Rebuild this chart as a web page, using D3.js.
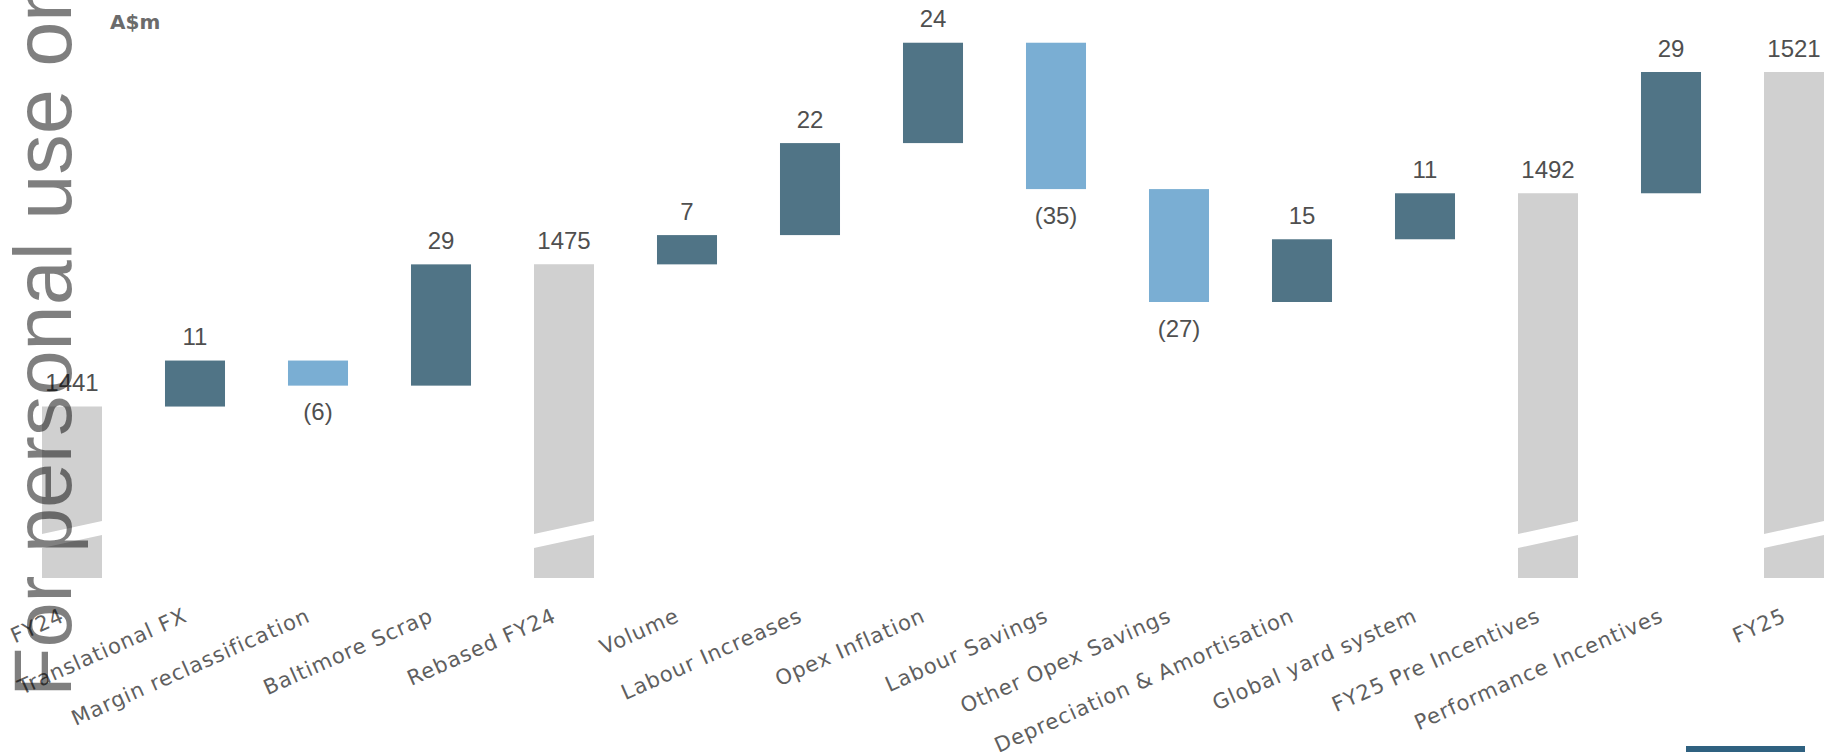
<!DOCTYPE html>
<html>
<head>
<meta charset="utf-8">
<script src="https://cdn.jsdelivr.net/npm/d3@7"></script>
<style>
	body { margin: 0; background: #fff; overflow: hidden; }
	svg { display: block; }
	.cat-label { font-family: "DejaVu Sans", sans-serif; font-size: 21px; letter-spacing: 1px; fill: #5f5f5f; }
	.val-label { font-family: "Liberation Sans Narrow", "Liberation Sans", sans-serif; font-size: 24px; fill: #4f4f4f; }
</style>
</head>
<body>
<script>
var categories = ["FY24", "Translational FX", "Margin reclassification", "Baltimore Scrap", "Rebased FY24",
	"Volume", "Labour Increases", "Opex Inflation", "Labour Savings", "Other Opex Savings",
	"Depreciation & Amortisation", "Global yard system", "FY25 Pre Incentives", "Performance Incentives", "FY25"];
var values = [1441, 11, -6, 29, 1475, 7, 22, 24, -35, -27, 15, 11, 1492, 29, 1521];
var kinds = ["total", "delta", "delta", "delta", "total", "delta", "delta", "delta", "delta", "delta",
	"delta", "delta", "total", "delta", "total"];

var W = 1837, H = 752;
var colors = {total: "#d0d0d0", up: "#507486", down: "#7aaed3"};

// running totals for the waterfall
var rows = [];
var run = 0;
categories.forEach(function (c, i) {
	var v = values[i];
	if (kinds[i] === "total") {
		rows.push({cat: c, v: v, lo: 1400, hi: v, kind: "total"});
		run = v;
	} else {
		var a = run, b = run + v;
		rows.push({cat: c, v: v, lo: Math.min(a, b), hi: Math.max(a, b), kind: v >= 0 ? "up" : "down"});
		run = b;
	}
});

var svg = d3.select("body").append("svg")
	.attr("width", W)
	.attr("height", H);

var x = d3.scaleBand()
	.domain(categories)
	.range([10.5, 1855.5])
	.paddingInner(0.512)
	.paddingOuter(0.256);

var y = d3.scaleLinear()
	.domain([1400, 1521])
	.range([578, 72]);

// bars
var bars = svg.append("g");
rows.forEach(function (d) {
	var x0 = x(d.cat), x1 = x0 + x.bandwidth();
	if (d.kind === "total") {
		// broken bar: two pieces split by a slanted gap
		var bot = y(d.lo), top = y(d.hi);
		var p = d3.path();
		p.moveTo(x0, top); p.lineTo(x1, top); p.lineTo(x1, bot - 57); p.lineTo(x0, bot - 44); p.closePath();
		p.moveTo(x0, bot - 30); p.lineTo(x1, bot - 43); p.lineTo(x1, bot); p.lineTo(x0, bot); p.closePath();
		bars.append("path").attr("d", p.toString()).attr("fill", colors.total);
	} else {
		bars.append("rect")
			.attr("x", x0)
			.attr("y", y(d.hi))
			.attr("width", x.bandwidth())
			.attr("height", y(d.lo) - y(d.hi))
			.attr("fill", colors[d.kind]);
	}
});

// value labels
svg.append("g").selectAll("text")
	.data(rows)
	.join("text")
	.classed("val-label", true)
	.attr("text-anchor", "middle")
	.attr("x", function (d) { return x(d.cat) + x.bandwidth() / 2; })
	.attr("y", function (d) { return d.kind === "down" ? y(d.lo) + 34.5 : y(d.hi) - 15.5; })
	.text(function (d) { return d.v < 0 ? "(" + (-d.v) + ")" : d.v; });

// category axis
var axis = svg.append("g")
	.attr("transform", "translate(0,618)")
	.call(d3.axisBottom(x).tickSize(0));
axis.select(".domain").remove();
axis.attr("font-family", null).attr("font-size", null);
axis.selectAll("text")
	.attr("class", "cat-label")
	.attr("fill", null)
	.attr("text-anchor", "end")
	.attr("x", -7)
	.attr("y", 0)
	.attr("dy", 0)
	.attr("transform", "rotate(-24)");

// unit label
svg.append("text")
	.attr("x", 110)
	.attr("y", 29)
	.style("font-family", "'DejaVu Sans', sans-serif")
	.style("font-weight", "bold")
	.style("font-size", "20px")
	.style("fill", "#6b6b6b")
	.text("A$m");

// slide fragment bottom right
svg.append("rect")
	.attr("x", 1686)
	.attr("y", 746)
	.attr("width", 119)
	.attr("height", 6)
	.attr("fill", "#2f6180");

// watermark
svg.append("text")
	.attr("transform", "translate(71,697) rotate(-90)")
	.style("font-family", "'Liberation Sans', Arial, sans-serif")
	.style("font-size", "81px")
	.style("fill", "#000")
	.style("fill-opacity", 0.5)
	.text("For personal use only");
</script>
</body>
</html>
